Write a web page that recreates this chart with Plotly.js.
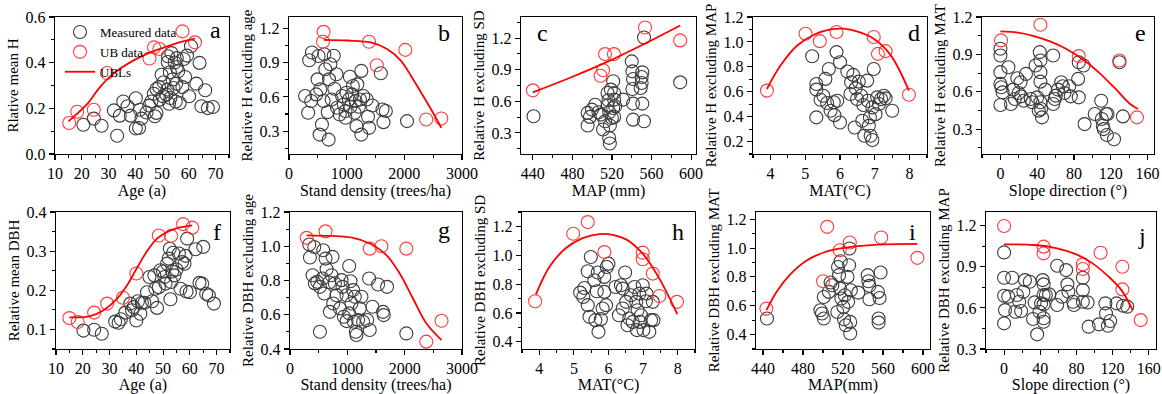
<!DOCTYPE html>
<html>
<head>
<meta charset="utf-8">
<script src="https://cdn.plot.ly/plotly-3.0.1.min.js"></script>
<style>
  html, body { margin: 0; padding: 0; background: #fff; }
  #chart { width: 1162px; height: 394px; }
</style>
</head>
<body>
<div id="chart"></div>
<script>
// ---- (a) relative mean H vs stand age ----
const ageA_meas = [20.6,24.5,27.4,32,33.2,34.2,35.5,37.1,38.3,40.2,40.2,41.4,41.7,42.3,44.2,45.2,46,46.9,47.3,47.9,47.9,48.9,49.1,49.8,50.4,50.6,51.6,52,52.2,52.6,52.9,53.1,53.5,53.9,54.3,54.7,55.1,55.3,56,56.6,57.6,58.1,58.6,59.3,60.1,60.8,62.8,64,64.7,66.1,67.1,69,55.5,52.1,55.5];
const hA_meas = [0.128,0.155,0.124,0.191,0.08,0.168,0.23,0.209,0.168,0.244,0.112,0.114,0.194,0.155,0.182,0.212,0.23,0.264,0.165,0.18,0.285,0.293,0.238,0.347,0.253,0.314,0.26,0.282,0.428,0.22,0.358,0.245,0.442,0.326,0.289,0.401,0.23,0.308,0.362,0.223,0.293,0.416,0.337,0.431,0.253,0.472,0.308,0.399,0.209,0.279,0.201,0.206,0.42,0.403,0.381];
const ageA_ub = [15.3,18.3,24.5,29.4,45.3,47,49,57.6,62.3];
const hA_ub = [0.136,0.185,0.194,0.355,0.418,0.467,0.46,0.537,0.489];
const ageA_fit = [15,21.8,26.8,31.7,39.2,45.4,51.6,57.8,62.3];
const hA_fit = [0.143,0.216,0.293,0.351,0.409,0.444,0.47,0.493,0.505];

// ---- (b) relative H excluding age vs stand density ----
const densB_meas = [280,397,350,332,385,472,496,513,542,531,571,600,612,630,671,688,694,717,740,776,787,822,834,880,921,950,980,997,1038,1055,1067,1096,1108,1137,1155,1172,1213,1230,1254,1254,1289,1347,1370,1388,1446,1592,1621,1638,1679,2047,1184,980];
const hB_meas = [0.608,0.989,0.921,0.461,0.564,0.622,0.754,0.959,0.666,0.27,0.358,0.564,0.974,0.842,0.467,0.226,0.754,0.886,0.578,0.96,0.672,0.798,0.505,0.446,0.608,0.534,0.417,0.637,0.578,0.777,0.514,0.622,0.696,0.461,0.564,0.344,0.514,0.578,0.27,0.828,0.608,0.578,0.426,0.329,0.525,0.807,0.49,0.379,0.476,0.388,0.71,0.476];
const densB_ub = [600,590,1388,1522,2017,2379,2641];
const hB_ub = [1.17,1.083,1.083,0.877,1.012,0.402,0.411];
const densB_fit = [600,1009,1417,1708,1942,2117,2292,2466,2641];
const hB_fit = [1.1,1.094,1.077,1.018,0.916,0.784,0.637,0.49,0.329];

// ---- (c) relative H excluding SD vs MAP ----
const mapC_meas = [440.7,495.4,495.4,497.7,499.7,503,506.4,508.8,511,513,515.5,515.5,516.5,517.2,517.9,517.2,517.9,518.9,519.9,521.2,521.2,522.2,522.2,522.2,523.2,531.3,540,540.7,541.3,540.7,541.3,541.3,549,550,550.7,550.7,552.4,552.4,589,550];
const hC_meas = [0.458,0.49,0.37,0.452,0.521,0.568,0.496,0.474,0.332,0.411,0.559,0.679,0.61,0.496,0.37,0.253,0.199,0.711,0.442,0.79,0.537,0.616,0.679,0.452,0.553,0.616,0.979,0.884,0.812,0.717,0.578,0.426,0.726,0.83,0.875,0.578,0.411,1.206,0.78,0.774];
const mapC_ub = [440,508.5,511,513,522,553.4,589];
const hC_ub = [0.704,0.843,0.894,1.048,1.048,1.3,1.178];
const mapC_fit = [440,477,514,551,589];
const hC_fit = [0.685,0.821,0.969,1.137,1.32];

// ---- (d) relative H excluding MAP vs MAT ----
const matD_meas = [5.2,5.32,5.32,5.32,5.44,5.52,5.58,5.63,5.68,5.73,5.82,5.84,5.9,5.92,6.0,6.0,6.21,6.3,6.32,6.38,6.42,6.45,6.49,6.54,6.61,6.64,6.67,6.7,6.78,6.8,6.83,6.86,6.88,6.93,6.93,6.97,7.02,7.07,7.12,7.18,7.26,7.31,7.5];
const hD_meas = [0.885,0.662,0.617,0.394,0.536,0.568,0.703,0.509,0.783,0.447,0.515,0.412,0.918,0.528,0.837,0.353,0.762,0.582,0.676,0.735,0.313,0.627,0.541,0.681,0.568,0.367,0.493,0.246,0.689,0.528,0.326,0.394,0.246,0.213,0.474,0.783,0.42,0.555,0.501,0.541,0.568,0.547,0.447];
const matD_ub = [3.9,5.01,5.42,5.9,6.97,7.09,7.31,7.98];
const hD_ub = [0.609,1.066,1.006,1.079,1.039,0.904,0.926,0.576];
const matD_fit = [3.9,4.29,4.77,5.25,5.73,6.11,6.49,6.97,7.45,7.98];
const hD_fit = [0.622,0.81,0.971,1.058,1.1,1.106,1.084,1.025,0.896,0.609];

// ---- (e) relative H excluding MAT vs slope direction ----
const slopeE_meas = [0,0,0,0,1,2.4,0,8.7,11.5,13.9,15.7,18.4,19.8,21.9,22.6,25.4,27.8,33,34.8,38.3,40,41.7,42.8,43.5,43.5,43.5,43.5,45.2,44.2,48.7,57.4,57.4,59.1,60.2,62.6,66.1,67.8,69.6,74.8,76.5,84.5,85.2,85.2,90.4,91.5,102.6,109.6,110.3,112.3,114.8,115.8,123.5,129.4,133.2,111.3,116.5];
const hE_meas = [0.945,0.891,0.757,0.663,0.636,0.595,0.493,0.797,0.501,0.617,0.542,0.708,0.59,0.676,0.563,0.528,0.743,0.542,0.515,0.81,0.555,0.448,0.918,0.515,0.851,0.757,0.681,0.394,0.461,0.617,0.891,0.501,0.542,0.569,0.617,0.676,0.644,0.59,0.644,0.563,0.703,0.555,0.837,0.81,0.34,0.421,0.528,0.381,0.3,0.421,0.252,0.219,0.837,0.402,0.327,0.421];
const slopeE_ub = [0.7,43.5,85.2,129.4,148.5];
const hE_ub = [1.012,1.138,0.886,0.851,0.394];
const slopeE_fit = [0,19,36.5,54,71.3,88.7,106,123.5,141,149.6];
const hE_fit = [1.084,1.074,1.047,1.004,0.945,0.864,0.762,0.636,0.501,0.461];

// ---- (f) relative mean DBH vs stand age ----
const ageF_meas = [20.25,24.25,27.1,32.1,33.4,34.25,35.9,37.75,38.4,39,40,40.6,41.5,42.1,43,44,44.9,45.9,46.75,47.1,47.75,48.4,49,50,50.5,50.9,51.5,52.1,52.5,52.75,53,53.4,53.75,54.25,55,55.9,56.5,57.1,58,58.4,58.75,59,60,62.1,63.6,64.6,65,66.1,67.1,69];
const dbhF_meas = [0.097,0.099,0.089,0.12,0.117,0.126,0.143,0.166,0.149,0.157,0.123,0.172,0.14,0.168,0.168,0.195,0.234,0.172,0.238,0.204,0.155,0.208,0.251,0.248,0.234,0.217,0.268,0.281,0.306,0.177,0.221,0.248,0.296,0.238,0.253,0.294,0.204,0.272,0.268,0.288,0.197,0.332,0.195,0.305,0.219,0.217,0.311,0.191,0.187,0.166];
const ageF_ub = [15,18.1,24.25,29.1,35,40,48.4,53,57.5,60.9];
const dbhF_ub = [0.129,0.119,0.143,0.166,0.181,0.243,0.34,0.339,0.369,0.36];
const ageF_fit = [15,22.75,27.75,32.75,36.5,39,41.5,44.6,47.75,51.5,55.25,60.9];
const dbhF_fit = [0.131,0.134,0.149,0.178,0.212,0.242,0.272,0.306,0.332,0.349,0.359,0.366];

// ---- (g) relative DBH excluding age vs stand density ----
const densG_meas = [336,423,348,394,435,475,522,522,568,580,597,620,638,684,696,725,742,754,783,812,870,899,916,939,986,986,1032,1032,1055,1072,1101,1130,1148,1159,1188,1217,1246,1275,1345,1380,1391,1438,1536,1623,1635,1693,2029,1113];
const dbhG_meas = [1.01,0.996,0.934,0.831,0.783,0.792,0.763,0.501,0.812,0.977,0.724,0.928,0.866,0.788,0.617,0.831,0.938,0.666,0.783,0.714,0.637,0.802,0.763,0.588,0.714,0.563,0.885,0.608,0.796,0.666,0.744,0.705,0.501,0.482,0.569,0.637,0.705,0.559,0.569,0.812,0.511,0.647,0.777,0.617,0.598,0.763,0.491,0.559];
const densG_ub = [290,620,1391,1594,2029,2377,2643];
const dbhG_ub = [1.049,1.087,0.986,1.0,0.986,0.443,0.565];
const densG_fit = [290,696,1101,1391,1681,1913,2145,2377,2643];
const dbhG_fit = [1.064,1.06,1.049,1.016,0.948,0.841,0.695,0.55,0.452];

// ---- (h) relative DBH excluding SD vs MAT ----
const matH_meas = [5.18,5.27,5.3,5.4,5.4,5.45,5.49,5.59,5.62,5.66,5.69,5.71,5.78,5.83,5.88,5.88,5.93,5.95,6.0,6.2,6.3,6.36,6.41,6.41,6.48,6.51,6.55,6.6,6.65,6.7,6.75,6.8,6.82,6.84,6.89,6.91,6.94,6.99,7.01,7.08,7.1,7.18,7.23,7.28,7.3];
const dbhH_meas = [0.741,0.711,0.773,0.889,0.654,0.573,0.988,0.827,0.55,0.75,0.88,0.469,0.557,0.631,0.85,0.746,0.654,0.919,0.942,0.78,0.584,0.792,0.769,0.631,0.88,0.677,0.515,0.561,0.723,0.538,0.78,0.677,0.481,0.619,0.734,0.538,0.584,0.792,0.481,0.681,0.734,0.469,0.55,0.677,0.55];
const matH_ub = [3.88,4.98,5.4,5.88,6.99,6.99,7.28,7.47,7.98];
const dbhH_ub = [0.681,1.149,1.23,1.022,1.018,0.972,0.873,0.718,0.677];
const matH_fit = [3.9,4.29,4.77,5.25,5.73,6.12,6.51,6.99,7.47,7.99];
const dbhH_fit = [0.727,0.919,1.05,1.119,1.147,1.142,1.11,1.011,0.838,0.591];

// ---- (i) relative DBH excluding MAT vs MAP ----
const mapI_meas = [444,497.4,499,500.8,500.8,505.9,507.6,509.3,514.3,515,516,517,517.7,518.4,520.4,521,521.8,522.8,524.5,525.1,526.1,526.5,527.2,527.2,527.8,535.3,544.7,545.4,546.4,546.4,554.9,555.6,555.6,556.6,557.6];
const dbhI_meas = [0.511,0.569,0.546,0.511,0.661,0.696,0.761,0.742,0.557,0.869,0.812,0.719,0.909,0.65,0.592,0.506,0.673,0.465,0.8,0.627,0.881,0.997,0.488,0.407,0.707,0.691,0.812,0.77,0.645,0.738,0.696,0.511,0.483,0.654,0.83];
const mapI_ub = [443.4,500.1,504.2,516.7,526.8,558.2,594.4];
const dbhI_ub = [0.58,0.77,1.147,0.985,1.038,1.073,0.932];
const mapI_fit = [443.4,453.5,467,484,500.8,517.7,534.6,554.9,594.4];
const dbhI_fit = [0.569,0.696,0.816,0.916,0.969,0.997,1.013,1.024,1.029];

// ---- (j) relative DBH excluding MAP vs slope direction ----
const slopeJ_meas = [0,0,0,1,0,4.6,8.9,12.4,14.2,16.7,18.8,21.3,23.1,28.4,32,33.8,36.6,39.1,40.9,42.7,43.7,43.7,43.7,43.7,43.7,46.2,49.8,58.7,58.7,64,68.6,70,71.1,76.4,77.2,87.1,87.1,87.1,92.4,93.5,104.9,112,112.7,114.8,117.3,124.4,131.6,136.2];
const dbhJ_meas = [1.005,0.82,0.689,0.584,0.487,0.682,0.82,0.572,0.694,0.645,0.577,0.718,0.803,0.791,0.519,0.64,0.407,0.572,0.633,0.803,0.772,0.694,0.626,0.499,0.524,0.694,0.699,0.908,0.621,0.682,0.876,0.772,0.718,0.645,0.621,0.82,0.73,0.645,0.64,0.463,0.48,0.633,0.56,0.47,0.504,0.633,0.616,0.609];
const slopeJ_ub = [0,43.7,43.7,87.1,87.1,106.7,130.8,130.8,151.1];
const dbhJ_ub = [1.198,1.047,0.998,0.918,0.884,1.003,0.9,0.735,0.511];
const slopeJ_fit = [0,33.8,58.7,80,97.8,115.6,129.8,142.2];
const dbhJ_fit = [1.064,1.059,1.035,0.991,0.925,0.828,0.73,0.584];

// axis titles and panel letters
const xTitles = ['Age (a)','Stand density (trees/ha)','MAP (mm)','MAT(\u00B0C)','Slope direction (\u00B0)',
                 'Age (a)','Stand density (trees/ha)','MAT(\u00B0C)','MAP(mm)','Slope direction (\u00B0)'];
const yTitles = ['Rlative mean H','Relative H excluding age','Relative H excluding SD','Relative H excluding MAP','Relative H excluding MAT',
                 'Relative mean DBH','Relative DBH excluding age','Relative DBH excluding SD','Relative DBH excluding MAT','Relative DBH excluding MAP'];
const letters = ['a','b','c','d','e','f','g','h','i','j'];
const legendNames = ['Measured data','UB data','UBLs'];

// ---------------- drawing ----------------
const W = 1162, H = 394;
const FONT = 'Liberation Serif, Times New Roman, serif';
const GREY = '#3c3c3c', RED = '#ff3b3b', LINE_RED = '#ff0000';

const series = [
  [ageA_meas,hA_meas,ageA_ub,hA_ub,ageA_fit,hA_fit],
  [densB_meas,hB_meas,densB_ub,hB_ub,densB_fit,hB_fit],
  [mapC_meas,hC_meas,mapC_ub,hC_ub,mapC_fit,hC_fit],
  [matD_meas,hD_meas,matD_ub,hD_ub,matD_fit,hD_fit],
  [slopeE_meas,hE_meas,slopeE_ub,hE_ub,slopeE_fit,hE_fit],
  [ageF_meas,dbhF_meas,ageF_ub,dbhF_ub,ageF_fit,dbhF_fit],
  [densG_meas,dbhG_meas,densG_ub,dbhG_ub,densG_fit,dbhG_fit],
  [matH_meas,dbhH_meas,matH_ub,dbhH_ub,matH_fit,dbhH_fit],
  [mapI_meas,dbhI_meas,mapI_ub,dbhI_ub,mapI_fit,dbhI_fit],
  [slopeJ_meas,dbhJ_meas,slopeJ_ub,dbhJ_ub,slopeJ_fit,dbhJ_fit]
];

// plot boxes in pixels: [left, right, top, bottom]
const boxes = [
  [55,229,17,154],[289,462,17,154],[521,696,17,154],[753,927,17,154],[982,1154,17,154],
  [56,230,212,349],[290,462,212,349],[522,695,212,349],[756,930,212,349],[986,1156,212,349]
];
// axis settings: range, first tick, tick step, minor tick step
const xAx = [
  {r:[10,75],t0:10,d:10,m:5},{r:[0,3000],t0:0,d:1000,m:500},{r:[428,605],t0:440,d:40,m:20},
  {r:[3.5,8.5],t0:4,d:1,m:0.5},{r:[-20,167],t0:0,d:40,m:20},
  {r:[10,75],t0:10,d:10,m:5},{r:[0,3000],t0:0,d:1000,m:500},{r:[3.5,8.5],t0:4,d:1,m:0.5},
  {r:[433,607],t0:440,d:40,m:20},{r:[-20,168],t0:0,d:40,m:20}
];
const yAx = [
  {r:[0,0.6],t0:0,d:0.2,m:0.1},{r:[0.1,1.3],t0:0.3,d:0.3,m:0.15},{r:[0.1,1.4],t0:0.3,d:0.3,m:0.15},
  {r:[0.1,1.2],t0:0.2,d:0.2,m:0.1},{r:[0.1,1.2],t0:0.3,d:0.3,m:0.15},
  {r:[0.05,0.4],t0:0.1,d:0.1,m:0.05},{r:[0.4,1.2],t0:0.4,d:0.2,m:0.1},{r:[0.35,1.3],t0:0.4,d:0.2,m:0.1},
  {r:[0.3,1.25],t0:0.4,d:0.2,m:0.1},{r:[0.3,1.3],t0:0.3,d:0.3,m:0.15}
];
const letterPos = [[223,30],[452,33],[535,33],[922,33],[1148,33],[223,232],[452,230],[686,232],[918,232],[1148,236]];

const traces = [];
const layout = {
  width: W, height: H,
  margin: {l:0, r:0, t:0, b:0},
  paper_bgcolor: '#fff', plot_bgcolor: '#fff',
  font: {family: FONT, size: 16, color: '#000'},
  showlegend: true,
  legend: {x: 60/W, y: 1 - 17/H, xanchor: 'left', yanchor: 'top',
           bgcolor: 'rgba(0,0,0,0)', font: {family: FONT, size: 13, color: '#000'},
           tracegroupgap: 0, itemwidth: 30},
  annotations: []
};

series.forEach((s, i) => {
  const n = i + 1;
  const xa = 'x' + (n === 1 ? '' : n), ya = 'y' + (n === 1 ? '' : n);
  const first = i === 0;
  traces.push({x: s[0], y: s[1], xaxis: xa, yaxis: ya, type: 'scatter', mode: 'markers',
    name: legendNames[0], showlegend: first, legendgroup: 'm',
    marker: {symbol: 'circle-open', size: 13, color: GREY, line: {width: 1.1, color: GREY}}});
  traces.push({x: s[2], y: s[3], xaxis: xa, yaxis: ya, type: 'scatter', mode: 'markers',
    name: legendNames[1], showlegend: first, legendgroup: 'u',
    marker: {symbol: 'circle-open', size: 13, color: RED, line: {width: 1.1, color: RED}}});
  traces.push({x: s[4], y: s[5], xaxis: xa, yaxis: ya, type: 'scatter', mode: 'lines',
    name: legendNames[2], showlegend: first, legendgroup: 'l',
    line: {color: LINE_RED, width: 1.8, shape: 'spline', smoothing: 1}});

  const b = boxes[i];
  const common = {showline: true, linecolor: '#000', linewidth: 1.2, mirror: true,
    ticks: 'outside', ticklen: 5, tickwidth: 1.1, tickcolor: '#000', showgrid: false,
    zeroline: false, automargin: false, ticklabeloverflow: 'allow',
    tickfont: {family: FONT, size: 16, color: '#000'}};
  const xs = xAx[i], ys = yAx[i];
  layout['xaxis' + (n === 1 ? '' : n)] = Object.assign({}, common, {
    domain: [b[0]/W, b[1]/W], anchor: ya, range: xs.r, tick0: xs.t0, dtick: xs.d,
    minor: {ticks: 'outside', ticklen: 3, tickcolor: '#000', dtick: xs.m, tick0: xs.t0, showgrid: false},
    title: {text: xTitles[i], font: {family: FONT, size: 16, color: '#000'}, standoff: 3}
  });
  layout['yaxis' + (n === 1 ? '' : n)] = Object.assign({}, common, {
    domain: [1 - b[3]/H, 1 - b[2]/H], anchor: xa, range: ys.r, tick0: ys.t0, dtick: ys.d,
    tickformat: '.1f',
    minor: {ticks: 'outside', ticklen: 3, tickcolor: '#000', dtick: ys.m, tick0: ys.t0, showgrid: false},
    title: {text: yTitles[i], font: {family: FONT, size: 15, color: '#000'}, standoff: 3}
  });

  const lp = letterPos[i];
  layout.annotations.push({text: letters[i], xref: 'paper', yref: 'paper',
    x: lp[0]/W, y: 1 - lp[1]/H, xanchor: i === 2 ? 'left' : 'right', yanchor: 'middle',
    showarrow: false, font: {family: FONT, size: 24, color: '#000'}});
});

Plotly.newPlot('chart', traces, layout, {displayModeBar: false, staticPlot: true});
</script>
</body>
</html>
